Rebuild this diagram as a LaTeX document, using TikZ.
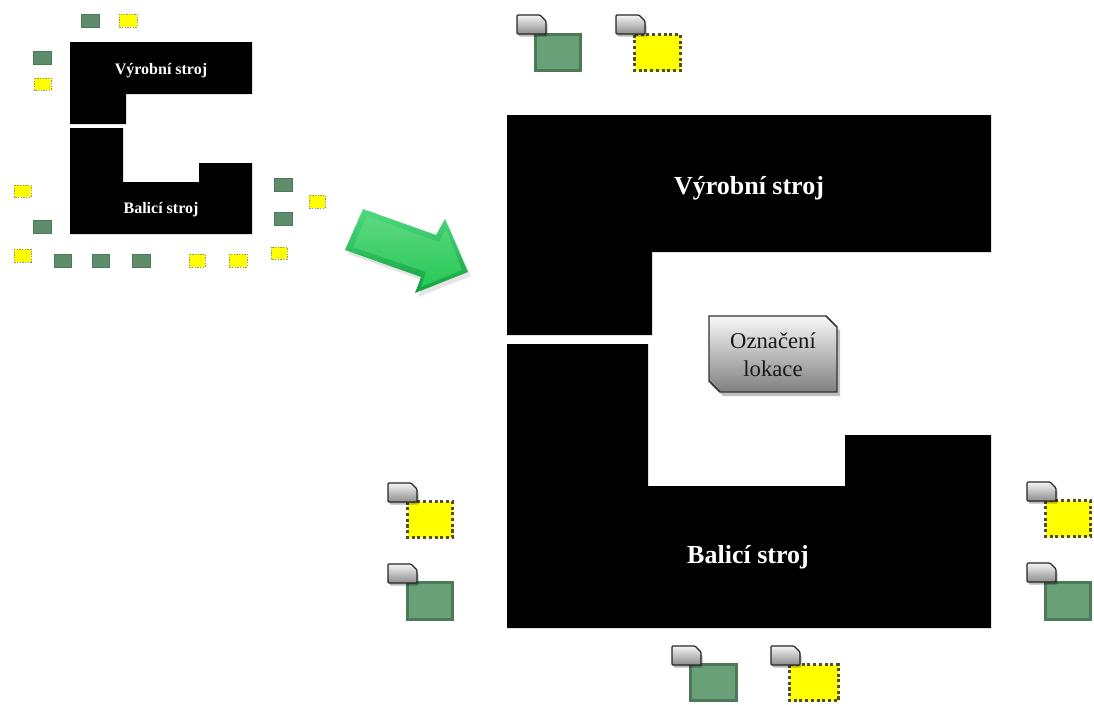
\documentclass[tikz,border=0pt]{standalone}
\usepackage{fontspec}
\setmainfont{Liberation Serif}
\definecolor{grnF}{HTML}{6AA078}
\definecolor{grnB}{HTML}{4C7A57}
\definecolor{ylwF}{HTML}{FFFF00}
\definecolor{ylwB}{HTML}{4F4D22}
\definecolor{arL}{HTML}{4EDB7E}
\definecolor{arM}{HTML}{27C957}
\definecolor{arD}{HTML}{12A040}
\tikzset{
  machine/.style={fill=black},
  gsq/.style={fill=grnF, draw=grnB, line width=2.6pt},
  ysq/.style={fill=ylwF, draw=ylwB, line width=2.3pt, dash pattern=on 2.3pt off 2pt},
  sgsq/.style={fill=grnF!88!black, draw=grnB, line width=0.7pt},
  sysq/.style={fill=ylwF, draw=ylwB!60, line width=0.6pt, dash pattern=on 1pt off 1pt},
  biglbl/.style={text=white, font=\bfseries\fontsize{19.5}{22}\selectfont, inner sep=0pt},
  smalllbl/.style={text=white, font=\bfseries\fontsize{12}{13}\selectfont, inner sep=0pt},
  loclbl/.style={text=black!90, font=\fontsize{17}{21}\selectfont, align=center, inner sep=0pt},
  tagpic/.pic={
    \fill[black, opacity=0.28, rounded corners=0.8pt] (1.5,2.5) -- (23.5,2.5) -- (30.5,9.5) -- (30.5,21.5) -- (1.5,21.5) -- cycle;
    \shade[top color=black!4, bottom color=black!45, draw=black!85, line width=0.9pt, rounded corners=0.8pt]
      (0,0) -- (23,0) -- (29,6) -- (29,19) -- (0,19) -- cycle;
  }
}
\begin{document}
\begin{tikzpicture}[x=0.75pt, y=-0.75pt]
\useasboundingbox (0,0) rectangle (1094,704);
\fill[white] (0,0) rectangle (1094,704);

% ---------- small overview ----------
\fill[machine] (70,42) -- (252,42) -- (252,94) -- (126,94) -- (126,124) -- (70,124) -- cycle;
\fill[machine] (70,128) -- (123,128) -- (123,182) -- (199,182) -- (199,163) -- (252,163) -- (252,234) -- (70,234) -- cycle;
\node[smalllbl] (sv) at (161,71) {Výrobní stroj};
\node[smalllbl] (sb) at (161,210) {Balicí stroj};

\foreach \a/\b/\c/\d in {81/14/99/27, 33/51/51/64, 33/220/51/233, 54/254/71/267, 92/254/109/267, 132/254/150/267, 274/178/292/191, 274/212/292/225}
  \draw[sgsq] (\a,\b) rectangle (\c,\d);
\foreach \a/\b/\c/\d in {119/14/137/27, 34/78/51/90, 14/185/31/197, 14/249/31/262, 189/254/205/267, 229/254/247/267, 271/247/287/259, 309/195/325/208}
  \draw[sysq] (\a,\b) rectangle (\c,\d);

% ---------- green arrow ----------
\fill[black, opacity=0.10] (366,213) -- (439,239) -- (448,223) -- (471,276) -- (418,297) -- (424,281) -- (348,254) -- cycle;
\shade[top color=arL, bottom color=arD] (363,209) -- (436,235) -- (445,219) -- (468,272) -- (415,293) -- (421,277) -- (345,250) -- cycle;
\shade[top color=arM!75!white, bottom color=arM] (367,216) -- (439,242) -- (446,229) -- (462,270) -- (421,287) -- (426,272) -- (353,247) -- cycle;

% ---------- large plan ----------
\fill[machine] (507,115) -- (991,115) -- (991,252) -- (652,252) -- (652,335) -- (507,335) -- cycle;
\fill[machine] (507,344) -- (648,344) -- (648,486) -- (845,486) -- (845,435) -- (991,435) -- (991,628) -- (507,628) -- cycle;
\node[biglbl] (bv) at (749,188) {Výrobní stroj};
\node[biglbl] (bb) at (748,557) {Balicí stroj};

% location label
\fill[black, opacity=0.25] (712,320) -- (829,320) -- (840,331) -- (840,396) -- (723,396) -- (712,385) -- cycle;
\shade[top color=black!3, bottom color=black!50, draw=black!80, line width=1.1pt]
  (709,316) -- (826,316) -- (837,327) -- (837,392) -- (720,392) -- (709,381) -- cycle;
\node[loclbl] (loc) at (773,355) {Označení\\lokace};

% top pair
\draw[gsq] (535.5,34.5) rectangle (580.5,70.5);
\draw[ysq] (634.5,34.5) rectangle (680.5,70.5);
\pic at (517,15) {tagpic};
\pic at (616,15) {tagpic};

% left pair
\draw[ysq] (407.5,501.5) rectangle (452.5,537.5);
\draw[gsq] (407.5,582.5) rectangle (452.5,619.5);
\pic at (388,483) {tagpic};
\pic at (388,564) {tagpic};

% right pair
\draw[ysq] (1045.5,500.5) rectangle (1090.5,536.5);
\draw[gsq] (1045.5,582.5) rectangle (1090.5,619.5);
\pic at (1027,482) {tagpic};
\pic at (1027,563) {tagpic};

% bottom pair
\draw[gsq] (690.5,664.5) rectangle (736.5,700.5);
\draw[ysq] (789.5,664.5) rectangle (838.5,700.5);
\pic at (672,646) {tagpic};
\pic at (771,646) {tagpic};
\end{tikzpicture}
\end{document}
